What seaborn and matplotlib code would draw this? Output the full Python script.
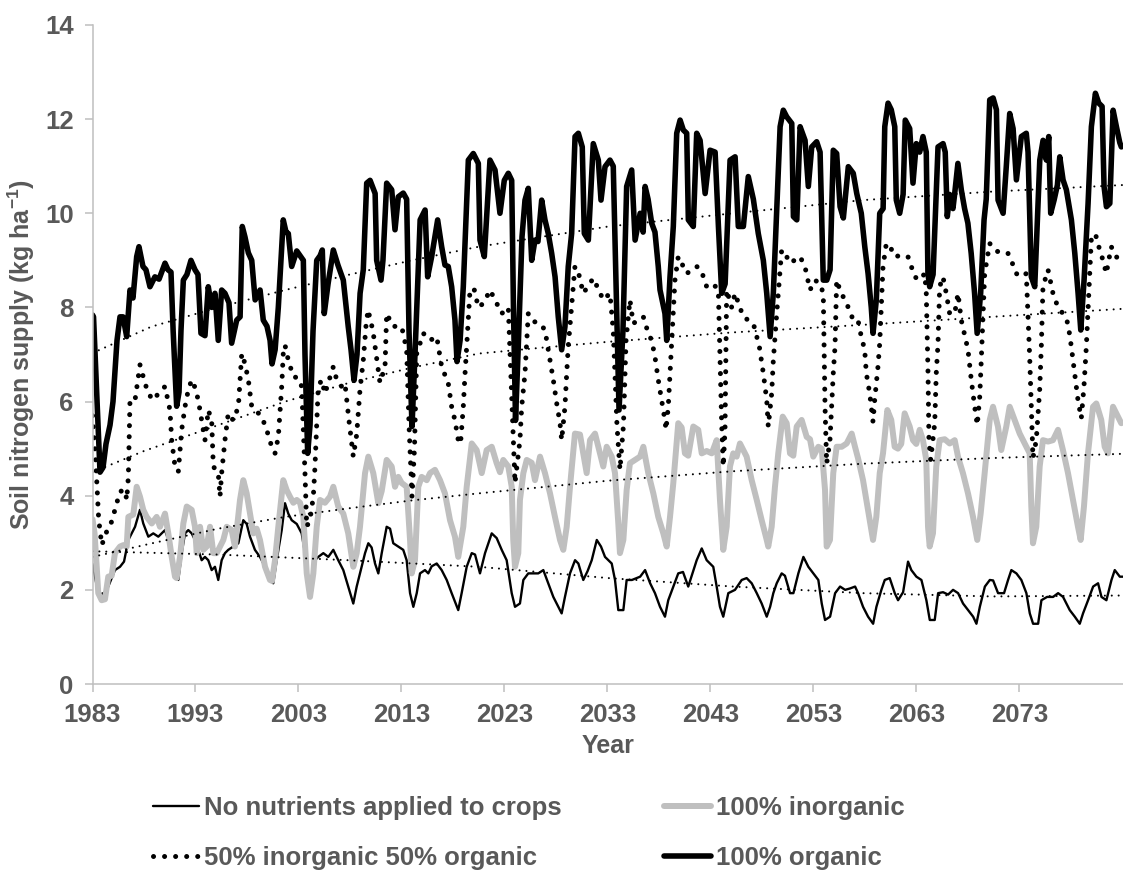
import numpy as np
import pandas as pd
import matplotlib
matplotlib.use("Agg")
import matplotlib.pyplot as plt
import seaborn as sns
from matplotlib.lines import Line2D

# ---------------- data (year, soil N supply kg/ha) ----------------
labels = ["No nutrients applied to crops", "100% inorganic",
          "50% inorganic 50% organic", "100% organic"]
xtick_years = [1983, 1993, 2003, 2013, 2023, 2033, 2043, 2053, 2063, 2073]

none_pts = [(1983.00,2.55),(1983.40,2.1),(1983.80,1.9),(1984.21,1.95),(1984.53,2.07),(1985.18,2.42),(1985.67,2.49),
 (1986.06,2.6),(1986.48,3.06),(1987.13,3.34),(1987.61,3.7),(1987.93,3.41),(1988.42,3.13),(1988.90,3.2),(1989.39,3.13),
 (1990.04,3.27),(1990.36,3.06),(1990.69,2.63),(1991.01,2.35),(1991.33,2.21),(1991.66,2.78),(1991.98,3.2),(1992.30,3.27),
 (1992.63,3.2),(1992.95,3.06),(1993.27,2.85),(1993.60,2.63),(1993.92,2.7),(1994.24,2.63),(1994.57,2.42),(1994.89,2.49),
 (1995.21,2.21),(1995.54,2.63),(1995.86,2.78),(1996.18,2.85),(1996.67,2.92),(1997.16,2.99),(1997.64,3.48),(1997.97,3.4),
 (1998.29,3.13),(1998.77,2.85),(1999.26,2.7),(1999.75,2.49),(2000.23,2.21),(2000.55,2.14),(2000.88,2.63),(2001.37,3.27),
 (2001.69,3.84),(2002.01,3.62),(2002.34,3.48),(2002.83,3.4),(2003.31,3.2),(2003.63,2.78),(2003.95,2.21),(2004.28,1.93),
 (2004.60,2.63),(2004.92,2.7),(2005.41,2.78),(2005.89,2.7),(2006.38,2.85),(2006.86,2.63),(2007.35,2.42),(2007.83,2.07),
 (2008.32,1.71),(2008.65,2.07),(2008.97,2.35),(2009.46,2.78),(2009.78,2.99),(2010.10,2.9),(2010.43,2.56),(2010.75,2.35),
 (2011.08,2.78),(2011.56,3.34),(2011.89,3.3),(2012.20,2.99),(2012.69,2.92),(2013.17,2.85),(2013.50,2.63),(2013.83,1.93),
 (2014.15,1.64),(2014.48,1.93),(2014.80,2.35),(2015.28,2.42),(2015.60,2.35),(2015.93,2.5),(2016.42,2.56),(2016.90,2.42),
 (2017.39,2.21),(2017.87,1.93),(2018.51,1.57),(2018.84,1.93),(2019.33,2.49),(2019.82,2.78),(2020.14,2.75),(2020.62,2.35),
 (2021.11,2.78),(2021.76,3.2),(2022.24,3.1),(2022.73,2.85),(2023.21,2.63),(2023.70,1.93),(2024.02,1.64),(2024.50,1.71),
 (2024.83,2.21),(2025.31,2.35),(2025.80,2.35),(2026.28,2.35),(2026.77,2.42),(2027.25,2.14),(2027.74,1.85),(2028.22,1.64),
 (2028.55,1.5),(2028.87,1.85),(2029.36,2.35),(2029.85,2.63),(2030.17,2.56),(2030.65,2.21),(2031.07,2.4),(2031.47,2.63),
 (2031.96,3.06),(2032.37,2.92),(2032.76,2.7),(2033.41,2.56),(2033.73,2.21),(2034.05,1.57),(2034.54,1.57),(2034.86,2.21),
 (2035.37,2.21),(2036.17,2.28),(2036.65,2.42),(2037.14,2.14),(2037.61,1.93),(2038.10,1.64),(2038.58,1.43),(2038.90,1.78),
 (2039.39,2.07),(2039.87,2.35),(2040.33,2.38),(2040.84,2.07),(2041.66,2.63),(2042.15,2.88),(2042.63,2.63),(2043.27,2.49),
 (2043.60,2.07),(2043.92,1.64),(2044.24,1.43),(2044.73,1.93),(2045.38,2.0),(2046.03,2.21),(2046.51,2.25),(2047.00,2.14),
 (2047.49,1.93),(2047.97,1.71),(2048.46,1.43),(2048.79,1.64),(2049.10,1.93),(2049.43,2.14),(2049.91,2.35),(2050.23,2.3),
 (2050.72,1.93),(2051.05,1.93),(2051.53,2.35),(2052.02,2.7),(2052.50,2.49),(2052.98,2.35),(2053.47,2.21),(2053.80,1.71),
 (2054.12,1.36),(2054.61,1.43),(2055.10,1.93),(2055.58,2.07),(2056.07,2.0),(2056.55,2.03),(2057.04,2.07),(2057.33,1.93),
 (2057.81,1.64),(2058.30,1.43),(2058.79,1.28),(2059.11,1.64),(2059.59,2.0),(2059.92,2.21),(2060.40,2.25),(2060.89,1.93),
 (2061.21,1.78),(2061.70,1.95),(2062.18,2.6),(2062.50,2.42),(2062.99,2.28),(2063.48,2.21),(2063.96,1.78),(2064.29,1.36),
 (2064.77,1.36),(2065.10,1.93),(2065.58,1.95),(2066.07,1.9),(2066.55,2.0),(2067.04,1.93),(2067.52,1.71),(2068.01,1.57),
 (2068.50,1.43),(2068.82,1.28),(2069.15,1.64),(2069.64,2.07),(2070.12,2.21),(2070.44,2.2),(2070.92,1.93),(2071.50,1.93),
 (2071.89,2.21),(2072.21,2.42),(2072.70,2.35),(2073.18,2.21),(2073.67,1.93),(2074.00,1.5),(2074.32,1.28),(2074.81,1.28),
 (2075.13,1.78),(2075.68,1.85),(2076.26,1.85),(2076.75,1.93),(2077.23,1.85),(2077.88,1.57),(2078.37,1.43),(2078.85,1.28),
 (2079.17,1.5),(2079.66,1.78),(2080.15,2.07),(2080.63,2.14),(2080.96,1.85),(2081.44,1.78),(2081.93,2.21),(2082.25,2.42),
 (2082.74,2.28),(2083.05,2.28)]

inorg_pts = [(1983.00,3.5),(1983.20,3.2),(1983.41,2.49),(1983.56,1.93),(1983.89,1.78),(1984.21,1.8),(1984.53,2.28),
 (1984.86,2.3),(1985.18,2.78),(1985.67,2.92),(1985.99,2.95),(1986.32,2.92),(1986.48,3.55),(1986.96,3.6),(1987.29,4.19),
 (1987.61,3.98),(1987.93,3.7),(1988.26,3.55),(1988.75,3.41),(1989.23,3.55),(1989.55,3.34),(1990.04,3.62),(1990.36,3.2),
 (1990.69,2.7),(1991.01,2.28),(1991.17,2.25),(1991.50,2.7),(1991.82,3.41),(1992.15,3.77),(1992.63,3.7),(1992.95,3.34),
 (1993.12,2.78),(1993.44,3.34),(1993.76,2.85),(1994.09,2.92),(1994.41,3.34),(1994.73,2.78),(1995.06,2.78),(1995.38,2.92),
 (1995.70,3.06),(1996.03,3.34),(1996.51,3.27),(1996.83,2.92),(1997.32,3.91),(1997.64,4.33),(1997.97,4.05),(1998.29,3.62),
 (1998.61,3.2),(1998.94,3.3),(1999.26,3.06),(1999.75,2.49),(2000.23,2.21),(2000.43,2.19),(2000.72,2.63),(2001.04,3.34),
 (2001.52,4.33),(2001.85,4.12),(2002.17,3.98),(2002.50,3.85),(2002.83,3.91),(2003.15,3.85),(2003.47,3.55),(2003.80,2.35),
 (2004.12,1.85),(2004.44,2.35),(2004.77,3.34),(2005.09,3.91),(2005.57,3.85),(2006.06,3.98),(2006.38,4.19),(2006.86,3.77),
 (2007.35,3.62),(2007.83,3.2),(2008.32,2.49),(2008.65,2.78),(2008.97,3.34),(2009.46,4.48),(2009.78,4.83),(2010.26,4.48),
 (2010.75,3.84),(2011.08,4.1),(2011.56,4.76),(2012.05,4.62),(2012.37,4.19),(2012.69,4.4),(2013.02,4.27),(2013.50,4.19),
 (2013.83,3.06),(2013.99,2.35),(2014.31,2.63),(2014.63,4.19),(2014.96,4.4),(2015.45,4.33),(2015.77,4.48),(2016.25,4.55),
 (2016.74,4.33),(2017.22,4.05),(2017.71,3.48),(2018.19,3.13),(2018.51,2.7),(2019.00,3.34),(2019.33,4.19),(2019.82,5.11),
 (2020.30,4.97),(2020.79,4.48),(2021.27,4.97),(2021.76,5.04),(2022.24,4.69),(2022.56,4.5),(2022.88,4.76),(2023.37,4.62),
 (2023.70,4.19),(2023.85,3.06),(2024.02,2.49),(2024.34,2.78),(2024.50,3.91),(2024.83,4.48),(2025.16,4.76),(2025.64,4.7),
 (2025.96,4.33),(2026.45,4.83),(2026.93,4.48),(2027.42,4.05),(2027.90,3.55),(2028.39,3.06),(2028.71,2.85),(2029.04,3.34),
 (2029.36,4.19),(2029.84,5.32),(2030.33,5.3),(2030.65,4.9),(2030.98,4.48),(2031.30,5.18),(2031.79,5.32),(2032.27,4.9),
 (2032.59,4.62),(2032.92,5.04),(2033.41,4.83),(2033.73,4.48),(2034.05,3.41),(2034.21,2.78),(2034.54,3.06),(2034.86,4.12),
 (2035.18,4.69),(2035.67,4.76),(2036.16,4.83),(2036.48,5.04),(2036.96,4.48),(2037.45,4.05),(2037.93,3.55),(2038.42,3.2),
 (2038.75,2.92),(2039.07,3.55),(2039.39,4.27),(2039.87,5.54),(2040.20,5.45),(2040.52,4.9),(2040.84,4.85),(2041.33,5.47),
 (2041.81,5.4),(2042.15,4.9),(2042.63,4.95),(2043.12,4.9),(2043.60,5.18),(2043.92,3.91),(2044.24,2.85),(2044.57,3.34),
 (2044.89,4.62),(2045.21,4.9),(2045.54,4.83),(2045.86,5.11),(2046.18,4.97),(2046.51,4.83),(2047.00,4.33),(2047.49,3.91),
 (2047.97,3.48),(2048.46,3.06),(2048.61,2.92),(2048.94,3.34),(2049.26,4.19),(2049.58,4.9),(2050.01,5.68),(2050.40,5.54),
 (2050.72,4.9),(2051.04,4.85),(2051.37,5.47),(2051.85,5.61),(2052.34,5.25),(2052.66,5.2),(2052.98,4.83),(2053.47,5.04),
 (2053.80,5.0),(2054.12,4.12),(2054.28,2.92),(2054.60,3.06),(2054.92,4.48),(2055.25,5.04),(2055.74,5.04),(2056.22,5.11),
 (2056.71,5.32),(2057.03,5.04),(2057.32,4.8),(2057.81,4.33),(2058.13,3.91),(2058.46,3.48),(2058.78,3.06),(2059.10,3.55),
 (2059.43,4.48),(2059.75,4.9),(2060.17,5.82),(2060.55,5.61),(2060.88,5.04),(2061.20,5.0),(2061.52,5.1),(2061.85,5.75),
 (2062.34,5.47),(2062.66,5.18),(2062.98,5.1),(2063.31,5.4),(2063.63,5.18),(2063.95,4.76),(2064.12,3.34),(2064.28,2.92),
 (2064.60,3.2),(2064.92,4.62),(2065.25,5.18),(2065.74,5.2),(2066.22,5.11),(2066.71,5.18),(2067.03,4.83),(2067.51,4.48),
 (2068.00,4.05),(2068.49,3.55),(2068.90,3.06),(2069.23,3.62),(2069.62,4.48),(2070.11,5.61),(2070.43,5.89),(2070.91,5.47),
 (2071.23,4.97),(2071.72,5.47),(2072.05,5.89),(2072.53,5.61),(2073.02,5.32),(2073.50,5.11),(2073.99,4.9),(2074.15,3.77),
 (2074.31,2.99),(2074.63,3.34),(2074.96,4.62),(2075.28,5.18),(2075.77,5.15),(2076.25,5.18),(2076.74,5.4),(2077.22,4.97),
 (2077.71,4.48),(2078.19,3.91),(2078.68,3.34),(2078.94,3.06),(2079.26,3.77),(2079.65,4.9),(2080.14,5.89),(2080.46,5.96),
 (2080.94,5.61),(2081.27,5.04),(2081.59,4.9),(2082.08,5.89),(2082.40,5.75),(2082.88,5.54)]

half_pts = [(1983.00,5.7),(1983.30,4.8),(1983.60,3.5),(1983.90,2.95),(1984.38,3.24),(1984.86,3.45),(1985.35,3.84),
 (1985.67,4.09),(1986.16,4.12),(1986.32,3.91),(1986.48,4.4),(1986.57,5.32),(1986.64,6.03),(1987.13,6.03),(1987.45,6.53),
 (1987.61,6.78),(1988.10,6.39),(1988.42,6.17),(1988.90,6.03),(1989.39,6.17),(1990.04,6.32),(1990.52,5.82),(1990.69,5.18),
 (1991.01,4.62),(1991.33,4.51),(1991.66,5.4),(1991.98,5.89),(1992.30,6.25),(1992.63,6.46),(1992.95,6.3),(1993.27,6.03),
 (1993.60,5.6),(1993.92,5.18),(1994.24,5.82),(1994.57,5.6),(1994.73,4.62),(1995.21,4.48),(1995.38,3.98),(1995.54,4.48),
 (1995.86,5.18),(1996.18,5.75),(1996.67,5.6),(1997.16,5.89),(1997.49,7.02),(1997.81,6.8),(1998.13,6.46),(1998.46,5.89),
 (1998.94,5.79),(1999.43,5.68),(1999.91,5.4),(2000.40,5.04),(2000.72,4.9),(2001.04,5.25),(2001.37,6.32),(2001.52,7.02),
 (2001.69,7.2),(2002.01,6.88),(2002.50,6.53),(2002.98,6.5),(2003.31,6.32),(2003.63,4.48),(2003.80,3.34),(2004.12,3.5),
 (2004.44,3.98),(2004.60,4.62),(2004.92,6.32),(2005.25,6.46),(2005.57,6.17),(2005.89,6.4),(2006.38,6.74),(2006.71,6.46),
 (2007.19,6.32),(2007.51,6.39),(2007.90,5.6),(2008.32,4.83),(2008.65,5.3),(2008.97,6.25),(2009.29,6.88),(2009.55,7.6),
 (2009.75,7.95),(2010.23,7.5),(2010.91,6.4),(2011.40,6.74),(2011.56,7.87),(2012.17,7.6),(2013.02,7.59),(2013.50,7.1),
 (2013.73,5.5),(2014.02,3.98),(2014.26,5.0),(2014.48,7.02),(2015.12,7.45),(2015.77,7.3),(2016.42,7.38),(2016.90,6.74),
 (2017.54,6.39),(2017.87,5.89),(2018.19,5.6),(2018.51,5.18),(2018.73,5.1),(2019.00,5.89),(2019.17,6.6),(2019.33,7.17),
 (2019.65,8.37),(2020.04,8.4),(2020.46,8.0),(2021.01,8.1),(2021.59,8.37),(2022.08,8.16),(2022.73,7.87),(2023.37,8.0),
 (2023.63,6.5),(2024.02,4.27),(2024.50,5.18),(2024.67,5.89),(2024.99,6.6),(2025.31,7.87),(2025.86,7.7),(2026.45,7.66),
 (2026.93,7.52),(2027.42,6.88),(2027.74,6.46),(2028.07,5.96),(2028.39,5.54),(2028.55,5.18),(2028.87,5.89),(2029.04,6.6),
 (2029.19,7.17),(2029.84,8.87),(2030.17,8.75),(2030.65,8.3),(2031.62,8.62),(2032.08,8.4),(2032.59,8.16),(2033.24,8.3),
 (2033.56,7.5),(2033.92,5.5),(2034.21,4.55),(2034.55,5.5),(2034.80,7.3),(2035.18,8.16),(2035.50,7.66),(2036.48,7.8),
 (2036.96,7.45),(2037.29,7.3),(2037.61,6.95),(2037.93,6.46),(2038.26,6.03),(2038.58,5.6),(2038.68,5.4),(2038.90,5.89),
 (2039.07,6.6),(2039.23,7.3),(2039.55,8.58),(2039.87,9.08),(2040.20,8.94),(2040.69,8.72),(2041.66,8.87),(2042.08,8.8),
 (2042.63,8.44),(2043.27,8.5),(2043.76,8.37),(2043.92,7.0),(2044.09,5.5),(2044.24,4.62),(2044.41,5.4),(2044.57,8.37),
 (2045.06,8.0),(2045.38,8.3),(2046.18,7.8),(2046.67,7.73),(2047.16,7.66),(2047.74,7.17),(2048.13,6.6),(2048.46,6.03),
 (2048.61,5.47),(2048.94,6.17),(2049.10,6.88),(2049.43,7.87),(2049.91,9.22),(2050.23,9.15),(2050.72,8.94),(2051.69,9.08),
 (2052.17,8.87),(2052.66,8.37),(2053.15,8.58),(2053.63,8.5),(2053.95,8.3),(2054.12,5.89),(2054.28,4.68),(2054.60,5.18),
 (2054.92,6.6),(2055.09,7.17),(2055.25,8.58),(2055.57,8.37),(2056.38,8.0),(2056.86,7.73),(2057.32,7.73),(2057.64,7.38),
 (2057.97,7.1),(2058.13,6.6),(2058.46,6.17),(2058.78,5.57),(2058.94,6.03),(2059.26,6.74),(2059.43,7.24),(2059.75,8.87),
 (2060.07,9.36),(2060.43,9.3),(2060.88,9.08),(2061.69,9.11),(2062.17,9.08),(2062.50,8.87),(2062.83,8.65),(2063.31,8.58),
 (2063.80,8.72),(2063.95,8.3),(2064.12,6.6),(2064.21,5.18),(2064.38,4.76),(2064.77,5.54),(2064.92,6.6),(2065.09,7.24),
 (2065.25,8.44),(2065.57,8.65),(2065.89,8.3),(2066.22,7.87),(2066.71,7.87),(2067.03,8.3),(2067.35,7.73),(2068.00,7.1),
 (2068.32,6.46),(2068.65,5.89),(2068.90,5.5),(2069.14,6.1),(2069.29,6.88),(2069.62,8.72),(2070.11,9.36),(2070.59,9.22),
 (2071.23,9.15),(2071.88,9.15),(2072.20,9.0),(2072.69,8.72),(2073.17,8.65),(2073.66,8.72),(2073.99,6.95),(2074.15,5.89),
 (2074.31,4.8),(2074.63,5.18),(2074.96,6.25),(2075.12,7.17),(2075.28,8.44),(2075.77,8.8),(2076.25,8.3),(2076.74,8.0),
 (2077.22,7.87),(2077.71,7.66),(2078.03,7.17),(2078.36,6.6),(2078.68,6.03),(2079.00,5.64),(2079.26,6.32),(2079.49,7.17),
 (2079.97,9.43),(2080.36,9.57),(2080.79,9.22),(2081.11,9.0),(2081.43,8.72),(2081.91,9.29),(2082.40,9.08),(2082.88,8.94)]

org_pts = [(1983.00,7.84),(1983.10,7.8),(1983.73,4.5),(1984.02,4.6),(1984.31,5.1),(1984.70,5.5),(1984.99,6.0),
 (1985.38,7.3),(1985.67,7.8),(1985.96,7.8),(1986.32,7.38),(1986.64,8.37),(1986.93,8.2),(1987.29,9.08),(1987.51,9.29),
 (1987.90,8.87),(1988.19,8.8),(1988.58,8.44),(1989.06,8.65),(1989.46,8.6),(1990.04,8.94),(1990.33,8.8),(1990.62,8.75),
 (1990.83,7.5),(1991.17,5.9),(1991.40,6.2),(1991.59,7.5),(1991.82,8.58),(1992.17,8.7),(1992.56,9.0),(1992.95,8.8),
 (1993.24,8.7),(1993.53,7.45),(1993.92,7.4),(1994.24,8.44),(1994.57,8.0),(1994.89,8.3),(1995.21,7.3),(1995.54,8.37),
 (1995.86,8.3),(1996.25,8.1),(1996.51,7.24),(1997.00,7.73),(1997.33,7.8),(1997.54,9.72),(1997.80,9.5),(1998.13,9.16),
 (1998.46,9.0),(1998.79,8.16),(1999.27,8.37),(1999.58,7.73),(1999.94,7.6),(2000.24,7.3),(2000.43,6.8),(2000.73,7.1),
 (2001.04,8.0),(2001.30,9.0),(2001.52,9.86),(2001.79,9.6),(2002.01,9.57),(2002.34,8.87),(2002.83,9.2),(2003.15,9.1),
 (2003.47,9.0),(2003.63,7.0),(2003.89,4.9),(2004.12,5.5),(2004.41,7.5),(2004.77,9.0),(2005.10,9.1),(2005.31,9.22),
 (2005.50,7.87),(2005.87,8.5),(2006.38,9.22),(2006.83,8.9),(2007.35,8.58),(2007.83,7.59),(2008.10,7.1),(2008.39,6.45),
 (2008.68,7.0),(2008.98,8.3),(2009.29,8.8),(2009.62,10.64),(2009.95,10.7),(2010.44,10.42),(2010.59,9.0),(2011.01,8.58),
 (2011.20,9.0),(2011.56,10.64),(2012.05,10.5),(2012.37,9.65),(2012.69,10.35),(2013.17,10.43),(2013.50,10.3),(2013.73,7.5),
 (2014.02,5.47),(2014.31,7.0),(2014.81,9.86),(2015.29,10.07),(2015.54,8.65),(2015.93,9.08),(2016.51,9.86),(2016.90,9.29),
 (2017.22,8.9),(2017.54,8.87),(2017.87,8.44),(2018.19,7.73),(2018.39,6.85),(2018.69,7.3),(2019.00,8.44),(2019.49,11.13),
 (2019.97,11.27),(2020.46,11.06),(2020.62,9.43),(2021.04,9.08),(2021.59,11.13),(2022.08,10.92),(2022.56,10.0),
 (2022.98,10.7),(2023.37,10.85),(2023.70,10.7),(2023.87,8.0),(2024.07,5.6),(2024.31,7.0),(2024.70,9.5),(2024.99,10.28),
 (2025.31,10.53),(2025.64,9.0),(2025.96,9.43),(2026.25,9.4),(2026.61,10.28),(2026.93,9.86),(2027.25,9.57),(2027.58,9.15),
 (2027.91,8.65),(2028.22,7.8),(2028.55,7.1),(2028.87,7.59),(2029.19,8.87),(2029.52,9.57),(2029.85,11.63),(2030.17,11.7),
 (2030.55,11.41),(2030.75,9.57),(2031.14,9.43),(2031.62,11.48),(2032.11,11.13),(2032.37,10.28),(2032.76,10.99),
 (2033.24,11.13),(2033.56,11.0),(2033.83,8.5),(2034.12,5.82),(2034.50,7.5),(2034.86,10.57),(2035.35,10.92),(2035.68,9.43),
 (2036.17,10.0),(2036.46,9.6),(2036.65,10.57),(2036.94,10.3),(2037.29,9.79),(2037.61,9.6),(2037.93,8.87),(2038.10,8.37),
 (2038.58,7.87),(2038.75,7.3),(2039.07,8.65),(2039.39,9.72),(2039.72,11.7),(2040.05,11.98),(2040.36,11.77),(2040.69,11.7),
 (2040.85,9.86),(2041.33,9.72),(2041.66,11.7),(2041.99,11.55),(2042.48,10.42),(2042.96,11.34),(2043.45,11.3),(2043.77,9.72),
 (2044.09,8.3),(2044.42,8.5),(2044.90,11.13),(2045.39,11.2),(2045.70,9.72),(2046.19,9.72),(2046.67,10.78),(2047.16,10.3),
 (2047.64,9.57),(2048.13,9.0),(2048.46,8.3),(2048.79,7.38),(2049.10,8.3),(2049.43,10.07),(2049.76,11.84),(2050.07,12.19),
 (2050.40,12.05),(2050.89,11.91),(2051.05,9.93),(2051.38,9.86),(2051.70,11.84),(2052.18,11.55),(2052.50,10.57),
 (2052.83,11.41),(2053.31,11.52),(2053.64,11.3),(2053.95,8.58),(2054.29,8.58),(2054.61,8.8),(2054.92,11.34),(2055.25,11.27),
 (2055.58,10.14),(2055.90,9.9),(2056.38,10.99),(2056.86,10.85),(2057.20,10.42),(2057.64,10.0),(2057.98,9.29),(2058.30,8.72),
 (2058.61,8.0),(2058.78,7.45),(2059.10,8.16),(2059.43,10.0),(2059.76,10.1),(2059.92,11.84),(2060.24,12.34),(2060.55,12.2),
 (2060.89,11.84),(2061.04,10.28),(2061.37,10.0),(2061.70,10.4),(2061.91,11.98),(2062.34,11.8),(2062.66,10.64),
 (2062.98,11.48),(2063.31,11.3),(2063.63,11.63),(2063.95,11.3),(2064.11,8.72),(2064.28,8.44),(2064.61,8.7),(2065.09,11.41),
 (2065.58,11.48),(2065.79,11.3),(2065.99,9.93),(2066.22,10.4),(2066.54,10.1),(2066.70,10.4),(2067.02,11.06),(2067.35,10.5),
 (2067.67,10.1),(2067.99,9.79),(2068.31,9.15),(2068.64,8.3),(2068.89,7.45),(2069.23,8.3),(2069.56,9.86),(2069.77,10.3),
 (2070.11,12.41),(2070.44,12.45),(2070.76,12.2),(2070.92,10.28),(2071.41,10.0),(2071.72,11.0),(2072.05,12.12),
 (2072.38,11.8),(2072.70,10.71),(2073.18,11.63),(2073.66,11.7),(2073.83,11.3),(2074.15,8.65),(2074.48,8.44),(2074.97,11.13),
 (2075.29,11.55),(2075.61,11.13),(2075.84,11.63),(2076.03,10.0),(2076.36,10.28),(2076.68,10.6),(2076.91,11.2),
 (2077.23,10.71),(2077.55,10.5),(2078.04,9.86),(2078.37,9.15),(2078.69,8.3),(2078.95,7.52),(2079.27,8.58),(2079.66,10.21),
 (2079.98,11.84),(2080.37,12.55),(2080.70,12.34),(2081.02,12.27),(2081.21,10.57),(2081.44,10.14),(2081.77,10.21),
 (2082.09,12.19),(2082.41,11.84),(2082.74,11.5),(2082.89,11.41)]

# trend lines
trend_none = [(1983.0,2.82),(1995.2,2.75),(2007.8,2.63),(2020.5,2.49),(2033.1,2.25),(2045.2,2.07),(2057.8,1.93),(2070.3,1.86),(2083.0,1.88)]
trend_inorg = [(1983.0,2.70),(1989.0,3.0),(1995.2,3.3),(2001.7,3.55),(2007.8,3.73),(2014.0,3.9),(2020.5,4.05),(2033.1,4.32),(2045.2,4.52),(2057.8,4.68),(2070.3,4.80),(2083.0,4.89)]
trend_half = [(1983.0,4.5),(1988.0,4.95),(1995.2,5.5),(2001.7,6.0),(2007.8,6.39),(2014.0,6.72),(2020.5,7.02),(2026.9,7.15),(2033.1,7.27),(2045.2,7.47),(2057.8,7.63),(2070.3,7.80),(2083.0,7.97)]
trend_org = [(1983.0,7.03),(1988.7,7.59),(1995.2,8.0),(2001.7,8.37),(2007.8,8.69),(2014.0,9.0),(2020.5,9.29),(2026.9,9.51),(2033.1,9.72),(2045.2,10.0),(2057.8,10.28),(2070.3,10.46),(2083.0,10.6)]

# ---------------- styling ----------------
sns.set_theme(style="white")
plt.rcParams['font.family'] = ['Liberation Sans', 'DejaVu Sans']
plt.rcParams['mathtext.fontset'] = 'custom'
plt.rcParams['mathtext.rm'] = 'Liberation Sans'
plt.rcParams['mathtext.bf'] = 'Liberation Sans:bold'

TXT = '#595959'
AXC = '#BFBFBF'
GREY = '#BFBFBF'

fig = plt.figure(figsize=(11.23, 8.73), dpi=100)
W, H = 1123, 873
ax = fig.add_axes([92.5 / W, 1 - 684 / H, (W - 92.5) / W, (684 - 25) / H])


def to_df(pts):
    return pd.DataFrame(pts, columns=["Year", "N"])


dot_big = (0, (0.01, 2.2))
dot_small = (0, (0.01, 3.3))

sty_none = dict(color='black', lw=1.7)
sty_inorg = dict(color=GREY, lw=4.3, solid_joinstyle='round')
sty_half = dict(color='black', lw=3.6, linestyle=dot_big, dash_capstyle='round')
sty_org = dict(color='black', lw=4.0, solid_joinstyle='round')

for pts, sty in [(none_pts, sty_none), (inorg_pts, sty_inorg),
                 (half_pts, sty_half), (org_pts, sty_org)]:
    sns.lineplot(data=to_df(pts), x="Year", y="N", ax=ax, estimator=None,
                 sort=False, legend=False, **sty)

for pts in [trend_none, trend_inorg, trend_half, trend_org]:
    sns.lineplot(data=to_df(pts), x="Year", y="N", ax=ax, estimator=None,
                 sort=False, legend=False, color='black', lw=1.5,
                 linestyle=dot_small, dash_capstyle='round')

ax.set_xlim(1983, 2083.05)
ax.set_ylim(0, 14)
ax.set_yticks(np.arange(0, 15, 2))
ax.set_xticks(xtick_years)
ax.set_xticklabels([str(y) for y in xtick_years])

for s in ['top', 'right']:
    ax.spines[s].set_visible(False)
for s in ['left', 'bottom']:
    ax.spines[s].set_color(AXC)
    ax.spines[s].set_linewidth(1.1)

ax.tick_params(axis='both', which='major', bottom=True, left=True,
               direction='out', length=5.5, width=1.1, color=AXC,
               labelcolor=TXT, labelsize=18.5)
ax.tick_params(axis='y', pad=8)
ax.tick_params(axis='x', pad=8)
for lab in ax.get_xticklabels() + ax.get_yticklabels():
    lab.set_fontweight('bold')

ax.set_xlabel("Year", fontsize=18, fontweight='bold', color=TXT, labelpad=5)
ax.set_ylabel(r"Soil nitrogen supply (kg ha$^{\mathbf{-1}}$)", fontsize=18,
              fontweight='bold', color=TXT, labelpad=6)
ax.grid(False)

handles = [Line2D([], [], **sty_none), Line2D([], [], **sty_half),
           Line2D([], [], **sty_inorg), Line2D([], [], **sty_org)]
leg_labels = [labels[0], labels[2], labels[1], labels[3]]
fig.legend(handles, leg_labels, ncol=2, loc='center',
           bbox_to_anchor=(0.4706, 1 - 833 / H), frameon=False,
           prop=dict(weight='bold', size=18.5), labelcolor=TXT,
           handlelength=1.8, handletextpad=0.2, columnspacing=4.0,
           labelspacing=1.0)

fig.savefig("out.png", dpi=100)
